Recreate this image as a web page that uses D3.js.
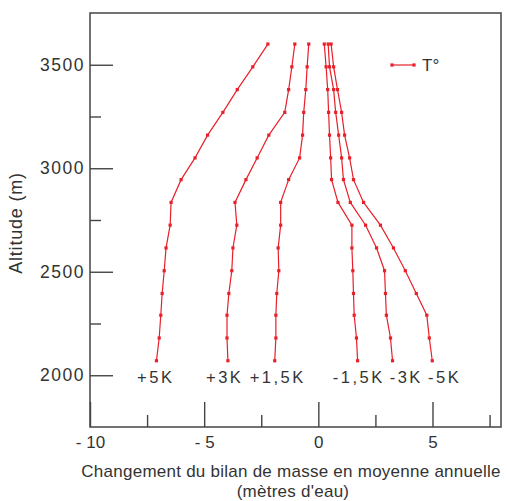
<!DOCTYPE html>
<html>
<head>
<meta charset="utf-8">
<script src="https://cdn.jsdelivr.net/npm/d3@7"></script>
<style>
  body { margin: 0; background: #fff; }
  text { font-family: "Liberation Sans", Arial, sans-serif; fill: #333; }
</style>
</head>
<body>
<div id="chart"></div>
<script>
// altitudes of the measured levels (m)
const altitudes = [2070, 2180, 2290, 2395, 2505, 2615, 2725, 2835, 2945, 3050, 3160, 3270, 3380, 3490, 3600]

// mass balance change (m w.e.) per scenario, bottom to top
const plus5K  = [-7.09, -6.97, -6.90, -6.84, -6.75, -6.67, -6.49, -6.45, -6.01, -5.40, -4.85, -4.18, -3.55, -2.87, -2.21]
const plus3K  = [-3.96, -4.00, -4.00, -3.92, -3.79, -3.74, -3.57, -3.65, -3.17, -2.68, -2.17, -1.47, -1.30, -1.16, -1.03]
const plus15K = [-1.91, -1.86, -1.86, -1.82, -1.73, -1.76, -1.65, -1.65, -1.30, -0.82, -0.69, -0.64, -0.55, -0.49, -0.42]
const minus15K = [1.72, 1.67, 1.57, 1.54, 1.51, 1.47, 1.47, 0.86, 0.58, 0.54, 0.49, 0.45, 0.41, 0.34, 0.26]
const minus3K  = [3.25, 3.16, 2.98, 2.94, 2.90, 2.55, 2.07, 1.40, 1.10, 1.02, 0.89, 0.76, 0.67, 0.49, 0.43]
const minus5K  = [4.99, 4.86, 4.75, 4.29, 3.81, 3.29, 2.72, 1.98, 1.54, 1.37, 1.15, 1.02, 0.84, 0.67, 0.56]

const labelTexts = ["+5K", "+3K", "+1,5K", "-1,5K", "-3K", "-5K"]
const labelAt = [-7.12, -4.1, -1.78, 1.77, 3.85, 5.53]

const xMajor = [-10, -5, 0, 5]
const xMinor = [-7.5, -2.5, 2.5, 7.5]
const yMajor = [2000, 2500, 3000, 3500]
const yMinor = [2250, 2750, 3250]

const series = [plus5K, plus3K, plus15K, minus15K, minus3K, minus5K]

let W = 507, H = 501
let margin = {top: 13, right: 6, bottom: 74, left: 90}
let width = W - margin.left - margin.right,
    height = H - margin.top - margin.bottom

const red = "#e8202a"

let svg = d3.select("#chart").append("svg")
    .attr("width", W).attr("height", H)

let g = svg.append("g")
    .attr("transform", "translate(" + margin.left + "," + margin.top + ")")

let x = d3.scaleLinear().domain([-10, 8]).range([0, width])
let y = d3.scaleLinear().domain([1750, 3750]).range([height, 0])

let fmt = d => d < 0 ? "- " + Math.abs(d) : "" + d

// y axis ticks (inward)
g.append("g")
    .attr("class", "yax")
    .call(d3.axisLeft(y).tickValues(yMajor).tickSize(-23).tickPadding(5).tickFormat(d3.format("d")))
g.append("g")
    .call(d3.axisLeft(y).tickValues(yMinor).tickSize(-11).tickFormat(""))

// x axis ticks (upward)
g.append("g")
    .attr("class", "xax")
    .attr("transform", "translate(0," + height + ")")
    .call(d3.axisBottom(x).tickValues(xMajor).tickSize(-25).tickPadding(9).tickFormat(fmt))
g.append("g")
    .attr("transform", "translate(0," + height + ")")
    .call(d3.axisBottom(x).tickValues(xMinor).tickSize(-12).tickFormat(""))

g.selectAll(".domain").remove()
g.selectAll(".tick line").attr("stroke", "#444").attr("stroke-width", 1.4)
g.selectAll(".tick text").attr("fill", "#333")
g.selectAll(".yax .tick text")
    .style("font-size", "17.5px")
    .style("letter-spacing", "1.5px")
g.selectAll(".xax .tick text")
    .style("font-size", "17px")

// frame
g.append("rect")
    .attr("width", width).attr("height", height)
    .attr("fill", "none").attr("stroke", "#444").attr("stroke-width", 1.5)

// curves
let line = d3.line()
    .x(d => x(d[0]))
    .y(d => y(d[1]))

series.forEach((vals, i) => {
    let pts = vals.map((v, j) => [v, altitudes[j]])
    g.append("path")
        .datum(pts)
        .attr("fill", "none")
        .attr("stroke", red)
        .attr("stroke-width", 1.2)
        .attr("d", line)
    g.selectAll(".m" + i)
        .data(pts)
        .enter().append("rect")
        .attr("x", d => x(d[0]) - 1.6)
        .attr("y", d => y(d[1]) - 1.6)
        .attr("width", 3.2).attr("height", 3.2)
        .attr("fill", red)
})

// scenario labels
g.selectAll(".klabel")
    .data(labelTexts)
    .enter().append("text")
    .attr("x", (d, i) => x(labelAt[i]))
    .attr("y", y(2000) + 8)
    .attr("text-anchor", "middle")
    .style("font-size", "16.5px")
    .style("letter-spacing", "2.5px")
    .text(d => d)

// legend
let lg = g.append("g").attr("transform", "translate(" + (392 - margin.left) + "," + (65 - margin.top) + ")")
lg.append("line").attr("x1", 0).attr("x2", 22).attr("stroke", red).attr("stroke-width", 1.2)
lg.selectAll("rect").data([0, 22]).enter().append("rect")
    .attr("x", d => d - 1.6).attr("y", -1.6).attr("width", 3.2).attr("height", 3.2).attr("fill", red)
lg.append("text").attr("x", 30).attr("y", 6)
    .style("font-size", "17px").text("T°")

// axis titles
svg.append("text")
    .attr("transform", "translate(22," + 223 + ") rotate(-90)")
    .attr("text-anchor", "middle")
    .style("font-size", "18px")
    .style("letter-spacing", "0.8px")
    .text("Altitude (m)")

svg.append("text")
    .attr("x", 291).attr("y", 477)
    .attr("text-anchor", "middle")
    .style("font-size", "17px")
    .style("letter-spacing", "0.25px")
    .text("Changement du bilan de masse en moyenne annuelle")
svg.append("text")
    .attr("x", 293).attr("y", 497)
    .attr("text-anchor", "middle")
    .style("font-size", "17px")
    .style("letter-spacing", "0.25px")
    .text("(mètres d'eau)")
</script>
</body>
</html>
